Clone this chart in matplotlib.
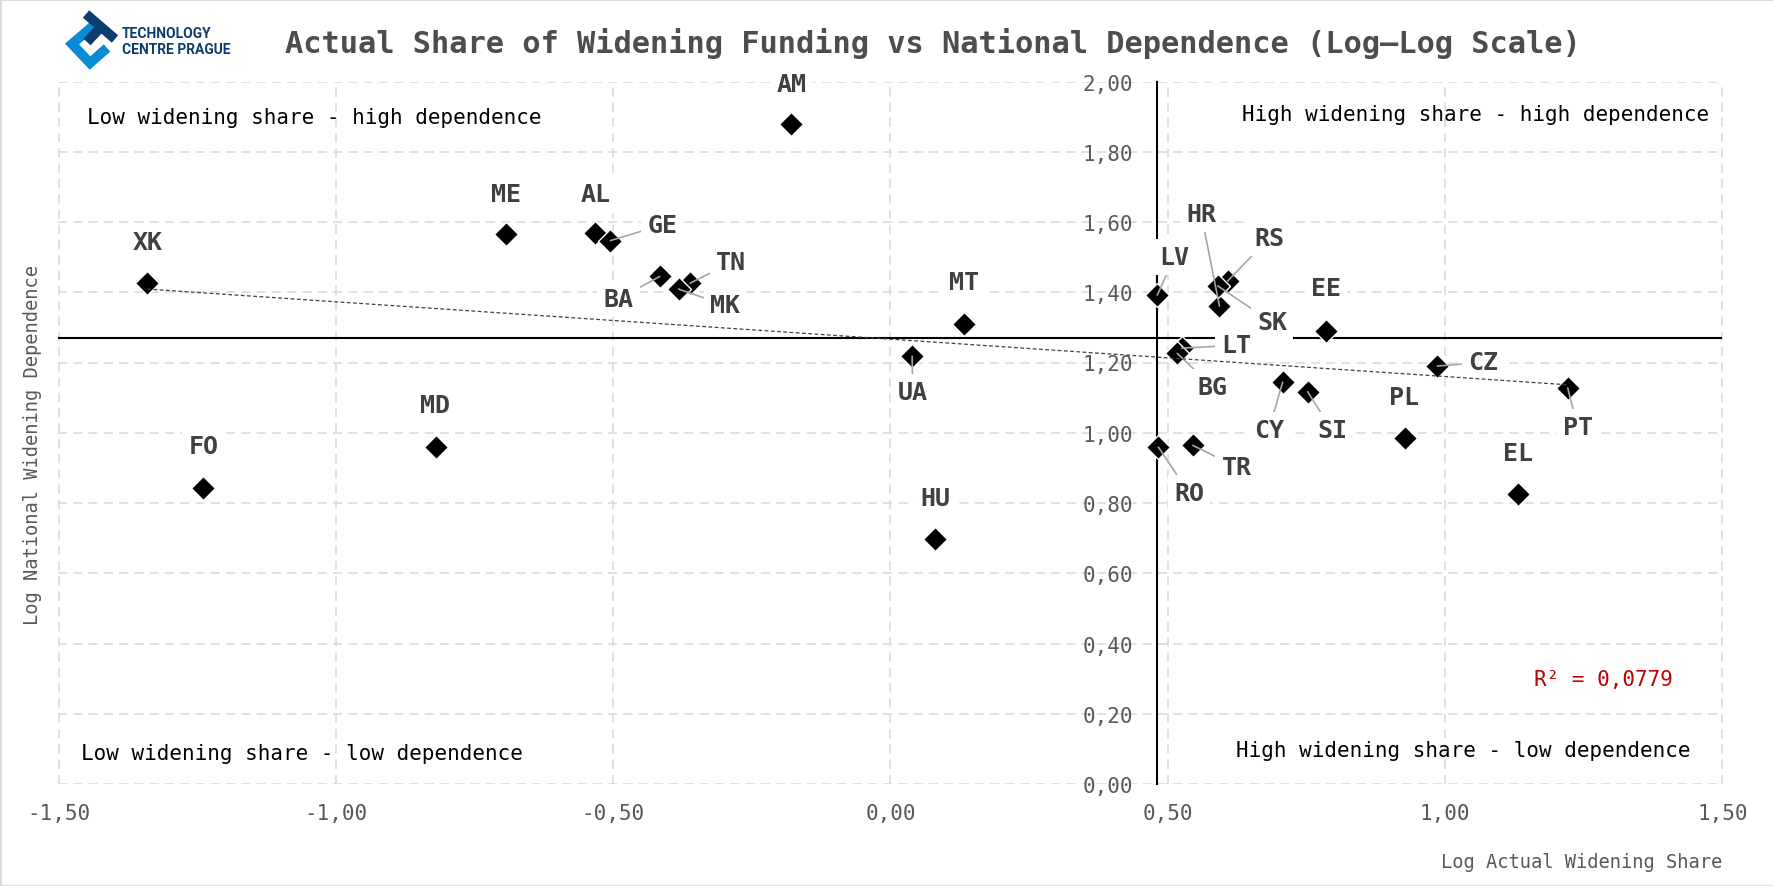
import numpy as np
import matplotlib
matplotlib.use('Agg')
from matplotlib import pyplot as plt
from matplotlib.patches import Rectangle

# Data
countries = ['XK', 'FO', 'MD', 'ME', 'AL', 'GE', 'BA', 'TN', 'MK', 'AM',
             'UA', 'HU', 'MT', 'LV', 'RO', 'LT', 'BG', 'TR', 'HR', 'RS',
             'SK', 'CY', 'SI', 'EE', 'PL', 'CZ', 'EL', 'PT']
log_share = [-1.340, -1.240, -0.820, -0.693, -0.532, -0.505, -0.416, -0.361,
             -0.382, -0.179, 0.039, 0.081, 0.133, 0.481, 0.483, 0.525, 0.517,
             0.545, 0.593, 0.608, 0.590, 0.707, 0.752, 0.786, 0.928, 0.986,
             1.132, 1.221]
log_dep = [1.425, 0.843, 0.959, 1.566, 1.569, 1.547, 1.445, 1.426, 1.409,
           1.880, 1.218, 0.697, 1.310, 1.392, 0.959, 1.241, 1.226, 0.964,
           1.361, 1.432, 1.418, 1.144, 1.117, 1.291, 0.986, 1.190, 0.825,
           1.127]

# quadrant split (axis crossing)
x_split = 0.48
y_split = 1.271

x_ticks = [-1.5, -1.0, -0.5, 0.0, 0.5, 1.0, 1.5]
x_tick_labels = ['-1,50', '-1,00', '-0,50', '0,00', '0,50', '1,00', '1,50']
y_ticks = [0.0, 0.2, 0.4, 0.6, 0.8, 1.0, 1.2, 1.4, 1.6, 1.8, 2.0]
y_tick_labels = ['0,00', '0,20', '0,40', '0,60', '0,80', '1,00', '1,20',
                 '1,40', '1,60', '1,80', '2,00']

# label placement (data coords) and whether a leader line is drawn
label_pos = {
    'XK': (-1.340, 1.543), 'FO': (-1.239, 0.961), 'MD': (-0.822, 1.078),
    'ME': (-0.694, 1.679), 'AL': (-0.532, 1.679), 'GE': (-0.411, 1.592),
    'BA': (-0.490, 1.381), 'TN': (-0.287, 1.485), 'MK': (-0.298, 1.363),
    'AM': (-0.178, 1.992), 'UA': (0.040, 1.115), 'HU': (0.081, 0.815),
    'MT': (0.133, 1.428), 'LV': (0.512, 1.501), 'RO': (0.538, 0.829),
    'LT': (0.624, 1.249), 'BG': (0.581, 1.130), 'TR': (0.624, 0.903),
    'HR': (0.560, 1.624), 'RS': (0.683, 1.555), 'SK': (0.688, 1.314),
    'CY': (0.682, 1.007), 'SI': (0.796, 1.007), 'EE': (0.785, 1.411),
    'PL': (0.926, 1.103), 'CZ': (1.068, 1.200), 'EL': (1.132, 0.942),
    'PT': (1.239, 1.015),
}
leaders = ['GE', 'BA', 'TN', 'MK', 'UA', 'LV', 'RO', 'LT', 'BG', 'TR', 'HR',
           'RS', 'SK', 'CY', 'SI', 'CZ', 'PT']

mono = 'DejaVu Sans Mono'
plt.rcParams['font.family'] = mono
W, H = 1774, 887

fig = plt.figure(figsize=(W / 100, H / 100), dpi=100)
ax = fig.add_axes([58.5 / W, 1 - 785 / H, 1664 / W, 702.5 / H])

ax.set_xlim(-1.5, 1.5)
ax.set_ylim(0, 2)
ax.set_xticks(x_ticks)
ax.set_xticklabels(x_tick_labels)
ax.set_yticks(y_ticks)
ax.set_yticklabels(y_tick_labels)
ax.tick_params(axis='both', length=0, labelsize=15, labelcolor='#595959')
ax.tick_params(axis='y', pad=17)
ax.tick_params(axis='x', pad=14)

ax.grid(True, color='#D9D9D9', lw=1.1, linestyle=(0, (6, 4)))
for gl in ax.get_xgridlines() + ax.get_ygridlines():
    gl.set_clip_on(False)

for s in ['top', 'right', 'bottom']:
    ax.spines[s].set_visible(False)
ax.spines['left'].set_position(('data', x_split))
ax.spines['left'].set_color('black')
ax.spines['left'].set_linewidth(1.5)
ax.axhline(y_split, color='black', lw=1.5, zorder=2.5)

# trendline
coef = np.polyfit(log_share, log_dep, 1)
xt = np.array([min(log_share), max(log_share)])
ax.plot(xt, np.polyval(coef, xt), color='#404040', lw=0.9,
        linestyle=(0, (3, 2)), zorder=5)

ax.plot(log_share, log_dep, linestyle='none', marker='D', markersize=12.5,
        color='black', markeredgecolor='white', markeredgewidth=1, zorder=3)

for c, xv, yv in zip(countries, log_share, log_dep):
    lx, ly = label_pos[c]
    arrow = None
    if c in leaders:
        arrow = dict(arrowstyle='-', color='#A6A6A6', lw=1.2,
                     shrinkA=0, shrinkB=0)
    ax.annotate(c, xy=(xv, yv), xytext=(lx, ly), ha='center', va='center',
                fontsize=18, fontweight='bold', color='#404040',
                bbox=dict(boxstyle='square,pad=0.25', fc='white', ec='none'),
                arrowprops=arrow, zorder=4)

# quadrant notes
qfont = dict(fontsize=15, color='black', va='center')
ax.text(-1.448, 1.900, 'Low widening share - high dependence', ha='left', **qfont)
ax.text(1.476, 1.907, 'High widening share - high dependence', ha='right', **qfont)
ax.text(-1.460, 0.089, 'Low widening share - low dependence', ha='left', **qfont)
ax.text(1.442, 0.096, 'High widening share - low dependence', ha='right', **qfont)

ax.text(1.285, 0.300, 'R² = 0,0779', color='#C00000', fontsize=15,
        ha='center', va='center')

# axis titles
fig.text(33 / W, 1 - 445 / H, 'Log National Widening Dependence',
         rotation=90, ha='center', va='center', fontsize=13.5, color='#595959')
fig.text(1722 / W, 1 - 863 / H, 'Log Actual Widening Share', ha='right',
         va='center', fontsize=13.5, color='#595959')

fig.text(933 / W, 1 - 53 / H,
         'Actual Share of Widening Funding vs National Dependence (Log–Log Scale)',
         ha='center', va='baseline', fontsize=21.9, fontweight='bold',
         color='#4D4D4D')

# logo
lax = fig.add_axes([55 / W, 1 - 75 / H, 70 / W, 65 / H])
lax.set_xlim(55, 125)
lax.set_ylim(75, 10)
lax.axis('off')
lax.plot([93, 72, 90, 107], [27, 45, 64, 49], color='#0A8BD6', lw=7,
         solid_joinstyle='miter', solid_capstyle='butt')
lax.plot([86, 115], [15, 40], color='#0D3C6E', lw=7, solid_capstyle='butt')
lax.plot([101, 87], [28, 43], color='#0D3C6E', lw=7, solid_capstyle='butt')
fig.text(122 / W, 1 - 34 / H, 'TECHNOLOGY', family='Roboto', fontweight='bold',
         fontsize=10, color='#0D3C6E', va='center', ha='left')
fig.text(122 / W, 1 - 50 / H, 'CENTRE PRAGUE', family='Roboto',
         fontweight='bold', fontsize=10, color='#0D3C6E', va='center',
         ha='left')

fig.patches.append(Rectangle((0, 0), 1, 1, transform=fig.transFigure,
                             fill=False, ec='#D9D9D9', lw=2))

fig.savefig('out.png', dpi=100)
